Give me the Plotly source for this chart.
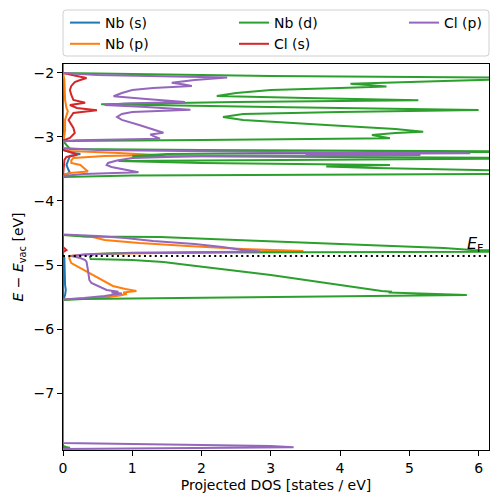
import plotly.graph_objects as go

# ---------------- data (energies in eV, DOS in states/eV) ----------------
E_F = -4.86

nb_s_energy = [-1.8, -3.172, -3.203, -3.25, -3.266, -3.297, -3.359, -3.4375, -3.516, -3.5625, -3.594,
               -4.844, -4.891, -5.078, -5.3125, -5.391, -5.469, -5.531, -5.547, -8.0]
nb_s_dos = [0, 0, 0, 0.15, 0.25, 0.1, 0.08, 0.05, 0.08, 0.1, 0,
            0, 0.02, 0.02, 0.03, 0.04, 0.03, 0.01, 0, 0]

nb_p_energy = [-1.8, -2.0, -2.109, -2.266, -2.422, -2.547, -2.594, -2.734, -2.891, -3.047, -3.0625,
               -3.172, -3.219, -3.25, -3.281, -3.297, -3.328, -3.367, -3.406, -3.4375, -3.484, -3.539, -3.5625, -3.594,
               -4.523, -4.547, -4.5625, -4.609, -4.656, -4.703, -4.75, -4.781, -4.805, -4.828, -4.859, -4.891,
               -4.969, -5.016, -5.078, -5.156, -5.234, -5.328, -5.375, -5.406, -5.430, -5.453, -5.477, -5.508, -5.539,
               -7.82, -7.845, -7.87, -8.0]
nb_p_dos = [0, 0, 0.02, 0.03, 0.03, 0.05, 0.07, 0.03, 0.03, 0.01, 0,
            0, 0.1, 0.8, 1.35, 0.6, 0.15, 0.12, 0.12, 0.25, 0.3, 0.36, 0.1, 0,
            0, 0.3, 0.43, 0.6, 1.1, 1.8, 2.6, 3.47, 1.5, 0.4, 0.1, 0.09,
            0.12, 0.2, 0.3, 0.43, 0.58, 0.72, 0.9, 1.06, 0.87, 0.92, 0.82, 0.6, 0,
            0, 0.05, 0, 0]

nb_d_energy = [-1.8, -2.0, -2.047, -2.078, -2.125, -2.167, -2.188, -2.211, -2.234, -2.266, -2.3125, -2.359,
               -2.391, -2.427, -2.453, -2.489, -2.531, -2.578, -2.609, -2.641, -2.6875, -2.734, -2.8125,
               -2.875, -2.917, -2.9375, -2.969, -2.992, -3.020, -3.047, -3.0625,
               -3.1875, -3.203, -3.227, -3.266, -3.297, -3.333, -3.375, -3.406, -3.4375, -3.461, -3.484,
               -3.516, -3.547, -3.578, -3.602, -3.625,
               -4.531, -4.555, -4.5625, -4.609, -4.656, -4.6875, -4.734, -4.766, -4.777, -4.789, -4.808,
               -4.828, -4.870, -4.906, -4.922, -4.9375, -4.953, -5.0, -5.078, -5.156, -5.234, -5.3125,
               -5.359, -5.406, -5.417, -5.430, -5.469, -5.492, -5.516, -5.531, -5.547,
               -7.84, -7.855, -7.87, -8.0]
nb_d_dos = [0, 0, 3.0, 7.0, 5.5, 4.15, 4.4, 4.67, 4.0, 3.0, 2.5, 2.22,
            3.5, 5.13, 2.5, 0.55, 3.0, 6.0, 4.0, 2.6, 2.31, 2.6, 3.8,
            4.8, 5.2, 4.8, 4.46, 4.6, 4.72, 2.0, 0,
            0.1, 2.0, 7.5, 1.5, 1.0, 7.5, 0.8, 2.0, 4.72, 3.8, 4.5,
            6.5, 7.5, 6.5, 1.0, 0,
            0, 0.3, 1.4, 2.5, 3.7, 4.5, 5.5, 5.9, 6.5, 7.0, 1.0,
            0.45, 0.39, 0.4, 1.0, 1.35, 1.45, 1.8, 2.4, 3.0, 3.5, 4.0,
            4.3, 4.6, 4.75, 4.7, 5.83, 4.0, 2.0, 0.3, 0,
            0, 0.1, 0, 0]

cl_s_energy = [-1.8, -2.0, -2.047, -2.078, -2.109, -2.141, -2.203, -2.266, -2.344, -2.422, -2.464, -2.5,
               -2.547, -2.583, -2.625, -2.734, -2.859, -2.9375, -3.016, -3.055,
               -3.203, -3.25, -3.281, -3.3125, -3.359, -3.609,
               -4.72, -4.766, -4.80, -8.0]
cl_s_dos = [0, 0, 0.2, 0.34, 0.25, 0.17, 0.12, 0.1, 0.12, 0.15, 0.32, 0.1,
            0.2, 0.49, 0.15, 0.08, 0.15, 0.17, 0.1, 0,
            0, 0.15, 0.2, 0.05, 0.02, 0,
            0, 0.05, 0, 0]

cl_p_energy = [-1.8, -2.0, -2.031, -2.070, -2.109, -2.152, -2.180, -2.203, -2.234, -2.266, -2.3125, -2.364,
               -2.406, -2.453, -2.477, -2.5, -2.531, -2.573, -2.609, -2.641, -2.6875, -2.734, -2.8125,
               -2.891, -2.933, -2.961, -2.984, -3.027, -3.052, -3.070,
               -3.172, -3.203, -3.234, -3.255, -3.266, -3.281, -3.297, -3.328, -3.367, -3.406, -3.4375,
               -3.469, -3.516, -3.552, -3.578, -3.609,
               -4.523, -4.547, -4.578, -4.625, -4.672, -4.719, -4.766, -4.789, -4.8125, -4.836, -4.859,
               -4.891, -4.922, -4.953, -5.078, -5.234, -5.281, -5.344, -5.391, -5.417, -5.430, -5.445,
               -5.484, -5.516, -5.539,
               -7.781, -7.805, -7.828, -7.847, -7.859, -7.875, -8.0]
cl_p_dos = [0, 0, 0.5, 2.37, 1.9, 1.57, 1.75, 1.86, 1.3, 1.0, 0.85, 0.73,
            1.2, 1.76, 0.9, 0.6, 1.2, 1.84, 1.0, 0.85, 0.78, 0.85, 1.1,
            1.35, 1.45, 1.26, 1.3, 1.40, 0.2, 0,
            0, 0.5, 3.0, 5.88, 3.5, 5.16, 2.0, 1.0, 0.78, 0.65, 0.63,
            0.7, 0.9, 1.09, 0.3, 0,
            0, 0.5, 0.9, 1.3, 1.9, 2.3, 2.6, 2.85, 1.0, 0.3, 0.12,
            0.25, 0.32, 0.34, 0.36, 0.38, 0.41, 0.55, 0.63, 0.80, 0.70, 0.85,
            0.6, 0.3, 0,
            0, 1.5, 3.0, 3.33, 1.5, 0, 0]

series_names = ["Nb (s)", "Nb (p)", "Nb (d)", "Cl (s)", "Cl (p)"]
series_colors = ["#1f77b4", "#ff7f0e", "#2ca02c", "#d62728", "#9467bd"]
series_legends = ["legend", "legend", "legend2", "legend2", "legend3"]
series_data = [(nb_s_dos, nb_s_energy), (nb_p_dos, nb_p_energy), (nb_d_dos, nb_d_energy),
               (cl_s_dos, cl_s_energy), (cl_p_dos, cl_p_energy)]

x_range = [0, 6.15]
y_range = [-7.89, -1.86]

FONT = "DejaVu Sans"

# The page body has an 8px margin, so the figure is drawn 8px smaller and offset.
W, H = 490, 494
ML, MT = 55, 56
MR, MB = 9, 52
PW, PH = W - ML - MR, H - MT - MB

fig = go.Figure()
for name, color, leg, (dos, en) in zip(series_names, series_colors, series_legends, series_data):
    fig.add_trace(go.Scatter(x=dos, y=en, mode="lines", name=name,
                             line=dict(color=color, width=2), legend=leg))

# Fermi level
fig.add_shape(type="line", xref="paper", yref="y", x0=0, x1=1, y0=E_F, y1=E_F,
              line=dict(color="black", width=2, dash="2px,3.4px"), layer="above")
fig.add_annotation(x=6.1, y=E_F, xref="x", yref="y", text="<i>E</i><sub>F</sub>",
                   showarrow=False, xanchor="right", yanchor="bottom",
                   font=dict(family=FONT, size=16, color="black"), yshift=-1)

# legend frame (rounded), placed above the plot area
x0, x1 = 0.0, 1.0
y0, y1 = 1 + 8 / PH, 1 + 54 / PH
rx, ry = 3 / PW, 3 / PH
path = (f"M {x0+rx},{y0} L {x1-rx},{y0} Q {x1},{y0} {x1},{y0+ry} L {x1},{y1-ry} "
        f"Q {x1},{y1} {x1-rx},{y1} L {x0+rx},{y1} Q {x0},{y1} {x0},{y1-ry} "
        f"L {x0},{y0+ry} Q {x0},{y0} {x0+rx},{y0} Z")
fig.add_shape(type="path", xref="paper", yref="paper", path=path,
              line=dict(color="#d0d0d0", width=1), fillcolor="rgba(255,255,255,0.8)", layer="above")

leg_y = 1 + 57 / PH
leg_common = dict(yanchor="top", xanchor="left", bgcolor="rgba(0,0,0,0)", borderwidth=0,
                  font=dict(family=FONT, size=14, color="black"), orientation="v",
                  traceorder="normal", itemwidth=30, y=leg_y)
fig.update_layout(
    legend=dict(x=2 / PW, **leg_common),
    legend2=dict(x=171 / PW, **leg_common),
    legend3=dict(x=341 / PW, **leg_common),
)

axis_common = dict(showline=True, linecolor="black", linewidth=1.2, mirror=True,
                   ticks="outside", ticklen=5, tickwidth=1.2, tickcolor="black",
                   showgrid=False, zeroline=False,
                   tickfont=dict(family=FONT, size=14, color="black"))

fig.update_xaxes(range=x_range, tickvals=[0, 1, 2, 3, 4, 5, 6],
                 title=dict(text="Projected DOS [states / eV]", standoff=5,
                            font=dict(family=FONT, size=14, color="black")),
                 **axis_common)
fig.update_yaxes(range=y_range, tickvals=[-2, -3, -4, -5, -6, -7],
                 title=dict(text="<i>E</i> − <i>E</i><sub>vac</sub> [eV]", standoff=6,
                            font=dict(family=FONT, size=14, color="black")),
                 **axis_common)

fig.update_layout(
    width=W, height=H,
    margin=dict(l=ML, r=MR, t=MT, b=MB, autoexpand=False),
    plot_bgcolor="white", paper_bgcolor="white",
    font=dict(family=FONT, size=14, color="black"),
    showlegend=True,
)

fig.write_html("out.html")
